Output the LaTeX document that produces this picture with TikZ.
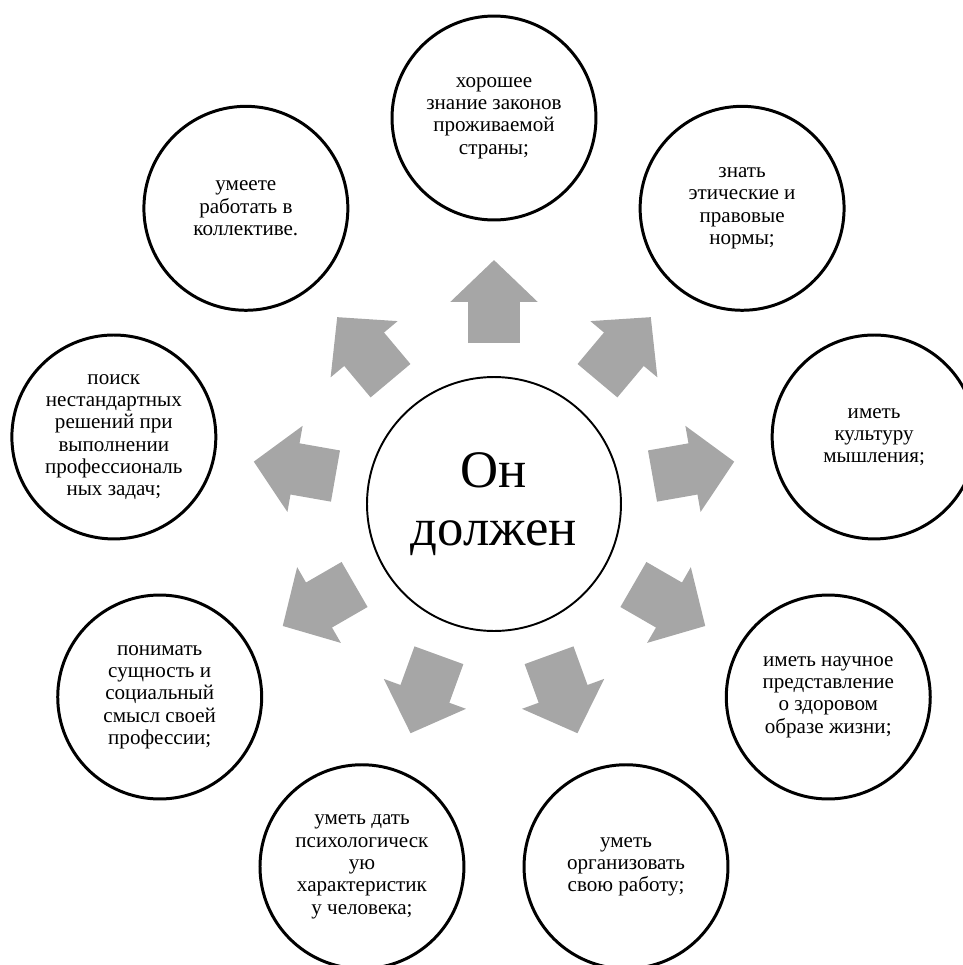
\documentclass[tikz,border=0pt]{standalone}
\usepackage{fontspec}
\setmainfont{Liberation Serif}
\usepackage{tikz}
\usetikzlibrary{arrows.meta}
\definecolor{ArrowGray}{HTML}{A6A6A6}

\begin{document}
\begin{tikzpicture}[x=0.02cm, y=0.02cm,
        idea/.style={circle, draw, line width=1.7pt, minimum size=4.08cm, outer sep=0pt, align=center, font=\fontsize{12}{12.7}\selectfont},
        hub/.style={circle, draw, line width=1.1pt, minimum size=5.08cm, outer sep=0pt, align=center, font=\fontsize{30}{33}\selectfont},
        flow/.style={draw=ArrowGray, line width=1.04cm, shorten <=0.68cm, shorten >=0.8cm, -{Triangle[length=0.84cm, width=1.7cm]}}]
        \useasboundingbox (-494,-461) rectangle (469,504);

        % Centre
        \node[hub] (hub) at (0,0) {Он\\должен};

        % Outer circles
        \node[idea] (laws) at (90:386) {хорошее\\знание законов\\проживаемой\\страны;};
        \node[idea] (ethics) at (50:386) {знать\\этические и\\правовые\\нормы;};
        \node[idea] (culture) at (10:386) {иметь\\культуру\\мышления;};
        \node[idea] (health) at (-30:386) {иметь научное\\представление\\о здоровом\\образе жизни;};
        \node[idea] (work) at (-70:386) {уметь\\организовать\\свою работу;};
        \node[idea] (psych) at (-110:386) {уметь дать\\психологическ\\ую\\характеристик\\у человека;};
        \node[idea] (profession) at (-150:386) {понимать\\сущность и\\социальный\\смысл своей\\профессии;};
        \node[idea] (search) at (170:386) {поиск\\нестандартных\\решений при\\выполнении\\профессиональ\\ных задач;};
        \node[idea] (team) at (130:386) {умеете\\работать в\\коллективе.};

        % Block arrows
        \draw[flow] (hub) -- (laws);
        \draw[flow] (hub) -- (ethics);
        \draw[flow] (hub) -- (culture);
        \draw[flow] (hub) -- (health);
        \draw[flow] (hub) -- (work);
        \draw[flow] (hub) -- (psych);
        \draw[flow] (hub) -- (profession);
        \draw[flow] (hub) -- (search);
        \draw[flow] (hub) -- (team);
\end{tikzpicture}
\end{document}
